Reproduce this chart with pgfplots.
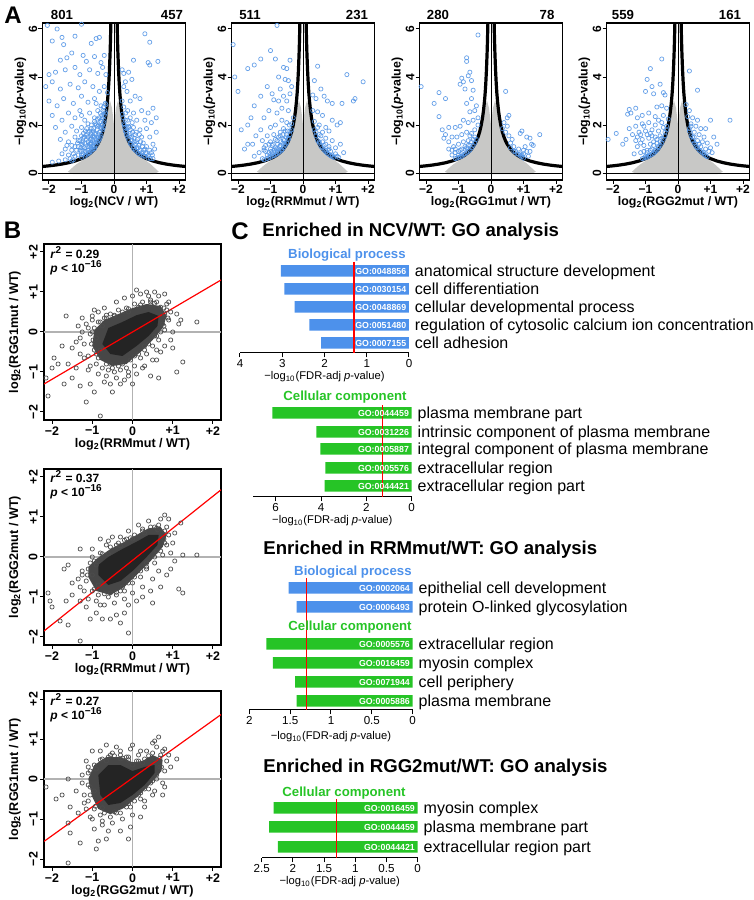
\documentclass[border=0pt]{standalone}
\usepackage{fontspec}
\setmainfont{Liberation Sans}
\usepackage{pgfplots}
\pgfplotsset{compat=1.18}
\definecolor{ptblue}{RGB}{85,150,230}
\definecolor{barblue}{RGB}{77,145,235}
\definecolor{bargreen}{RGB}{38,196,38}
\definecolor{lobegray}{RGB}{200,200,198}
\newcommand\fs[1]{\fontsize{#1}{#1}\selectfont}
\tikzset{
 goid/.style={anchor=east, text=white, font=\bfseries\fs{4.4}, inner sep=0pt, xshift=-1.2pt, text height=3.2pt, text depth=0pt},
 gocat/.style={anchor=west, font=\fs{8}, inner sep=0pt, xshift=2.8pt, text height=5.8pt, text depth=0pt},
}
\pgfplotsset{
 /pgf/number format/assume math mode=true,
 lobe/.style={fill=lobegray, draw=none},
 curve/.style={black, line width=1.6pt},
 thinl/.style={black, line width=0.5pt},
 bluept/.style={only marks, mark=o, mark size=1.05pt, mark options={draw=ptblue, line width=0.35pt, draw opacity=0.9}},
 blkpt/.style={only marks, mark=o, mark size=1.05pt, mark options={draw=black!70, line width=0.35pt}},
 volc/.style={scale only axis, anchor=south west, width=71.5pt, height=78.5pt, xmin=-2.2, xmax=2.2, ymin=-0.29, ymax=6.25,
  xtick={-2,-1,0,1,2}, xticklabels={−2,−1,0,+1,+2}, ytick={0,2,4,6}, yticklabels={0,2,4,6},
  tick pos=left, tick align=outside, major tick length=2pt, axis line style={line width=0.6pt},
  every tick/.style={black, line width=0.5pt}, tick label style={font=\bfseries\fs{6}, inner sep=0.4pt},
  yticklabel style={rotate=90, anchor=south},
  every axis y label/.style={at={(axis description cs:-0.155,0.5)}, rotate=90, anchor=center, font=\bfseries\fs{6.2}},
  every axis x label/.style={at={(axis description cs:0.5,-0.14)}, anchor=center, font=\bfseries\fs{6.2}},
  ylabel={−log\textsubscript{10}(\textit{p}-value)}},
 scat/.style={scale only axis, anchor=south west, width=88.5pt, height=88pt, xmin=-2.2, xmax=2.2, ymin=-2.2, ymax=2.2,
  xtick={-2,-1,0,1,2}, xticklabels={−2,−1,0,+1,+2}, ytick={-2,-1,0,1,2}, yticklabels={−2,−1,0,+1,+2},
  tick pos=left, tick align=outside, major tick length=2pt, axis line style={line width=0.6pt},
  every tick/.style={black, line width=0.5pt}, tick label style={font=\bfseries\fs{6.2}, inner sep=1pt},
  yticklabel style={rotate=90, anchor=south},
  every axis y label/.style={at={(axis description cs:-0.165,0.5)}, rotate=90, anchor=center, font=\bfseries\fs{6.3}},
  every axis x label/.style={at={(axis description cs:0.5,-0.14)}, anchor=center, font=\bfseries\fs{6.3}}},
 goax/.style={scale only axis, anchor=south west, x dir=reverse, axis x line=bottom, axis y line=none,
  x axis line style={-, line width=0.5pt}, tick align=outside, major tick length=2.2pt,
  xtick style={black, line width=0.5pt}, ytick=\empty, clip=false, tick label style={font=\fs{5.8}, inner sep=0.8pt},
  xlabel={−log\textsubscript{10}(FDR-adj \textit{p}-value)},
  every axis x label/.style={at={(axis description cs:0.5,0)}, anchor=center, yshift=-11.8pt, font=\fs{5.6}}},
}
\newcommand\volcbase{%
 \addplot[lobe] coordinates {(0,-0.05) (0,2.0) (0.06,2.7) (0.12,3.0) (0.18,2.8) (0.25,2.3) (0.3,1.95) (0.4,1.45) (0.5,1.15) (0.6,0.95) (0.7,0.8) (0.8,0.7) (0.9,0.6) (1.0,0.5) (1.1,0.4) (1.2,0.28) (1.3,0.15) (1.38,0.05) (1.2,-0.05)};
 \addplot[lobe] coordinates {(0,-0.05) (0,2.0) (-0.06,2.7) (-0.12,3.0) (-0.18,2.8) (-0.25,2.3) (-0.3,1.95) (-0.4,1.45) (-0.5,1.15) (-0.6,0.95) (-0.7,0.8) (-0.8,0.7) (-0.9,0.6) (-1.0,0.5) (-1.1,0.42) (-1.2,0.32) (-1.3,0.2) (-1.42,0.05) (-1.25,-0.05)};
}
\newcommand\volctop{%
 \addplot[curve] coordinates {(0.09,6.67) (0.1,6.0) (0.11,5.45) (0.12,5.0) (0.14,4.29) (0.16,3.75) (0.18,3.33) (0.2,3.0) (0.23,2.61) (0.26,2.31) (0.3,2.0) (0.35,1.71) (0.4,1.5) (0.45,1.33) (0.5,1.2) (0.6,1.0) (0.7,0.857) (0.8,0.75) (0.9,0.667) (1.0,0.6) (1.2,0.5) (1.4,0.429) (1.6,0.375) (1.8,0.333) (2.0,0.3) (2.2,0.273)};
 \addplot[curve] coordinates {(-0.09,6.67) (-0.1,6.0) (-0.11,5.45) (-0.12,5.0) (-0.14,4.29) (-0.16,3.75) (-0.18,3.33) (-0.2,3.0) (-0.23,2.61) (-0.26,2.31) (-0.3,2.0) (-0.35,1.71) (-0.4,1.5) (-0.45,1.33) (-0.5,1.2) (-0.6,1.0) (-0.7,0.857) (-0.8,0.75) (-0.9,0.667) (-1.0,0.6) (-1.2,0.5) (-1.4,0.429) (-1.6,0.375) (-1.8,0.333) (-2.0,0.3) (-2.2,0.273)};
 \addplot[thinl] coordinates {(0,-0.29) (0,6.25)};
 \addplot[thinl] coordinates {(-2.2,0) (2.2,0)};
}
\newcommand\scatbase{%
 \addplot[black!30, line width=0.7pt] coordinates {(0,-2.2) (0,2.2)};
 \addplot[black!30, line width=0.7pt] coordinates {(-2.2,0) (2.2,0)};
}
\begin{document}
\begin{tikzpicture}
\path[use as bounding box] (0,0) rectangle (377pt,450pt);

% ---------------- Panel A ----------------
\begin{axis}[volc, at={(21.25pt,360pt)}, xlabel={log\textsubscript{2}(NCV / WT)}]
\volcbase
\addplot[bluept] coordinates {(-2.05,6.15) (-1.75,6.0) (-1.6,5.65) (-1.2,5.7) (-1.0,6.2) (-0.55,5.6) (-0.45,5.65) (-0.7,5.4) (-1.9,5.5) (-1.55,5.35) (-1.3,5.0) (-1.65,4.7) (-1.45,4.8) (-0.95,4.9) (-0.85,4.65) (-0.6,4.85) (-0.4,4.6) (-0.3,4.9) (-2.0,4.1) (-1.8,4.2) (-1.5,4.3) (-1.2,4.4) (-1.05,4.1) (-0.75,4.3) (-0.5,4.15) (-0.35,4.4) (-0.25,4.1) (-2.1,3.6) (-1.9,3.8) (-1.65,3.5) (-1.35,3.7) (-1.1,3.55) (-0.9,3.8) (-0.65,3.6) (-0.45,3.4) (-0.3,3.6) (-0.2,3.35) (-2.0,3.0) (-1.75,2.8) (-1.55,3.1) (-1.25,2.9) (-1.0,3.2) (-0.8,2.95) (-0.6,3.1) (-0.4,2.8) (-0.25,2.85) (-1.9,2.4) (-1.6,2.2) (-1.4,2.5) (-1.2,2.3) (-1.05,2.6) (-0.9,2.2) (-0.75,2.5) (-0.6,2.3) (-0.5,2.6) (-0.38,2.4) (-0.3,2.2) (-0.28,2.6) (-1.8,1.9) (-1.5,1.7) (-1.3,1.95) (-1.15,1.75) (-1.0,1.9) (-0.85,1.6) (-0.7,1.85) (-0.6,1.65) (-0.5,1.95) (-0.45,1.7) (-0.38,1.85) (-0.33,1.9) (-1.65,1.4) (-1.4,1.3) (-1.2,1.5) (-1.05,1.35) (-0.95,1.45) (-0.8,1.3) (-0.7,1.45) (-0.62,1.25) (-0.55,1.4) (-0.48,1.35) (-0.42,1.5) (-1.5,1.0) (-1.3,0.95) (-1.1,1.1) (-1.0,0.9) (-0.9,1.05) (-0.82,0.95) (-0.75,1.1) (-0.68,1.0) (-0.6,1.1) (-0.55,1.15) (-1.35,0.6) (-1.2,0.7) (-1.1,0.75) (-0.95,0.8) (-0.85,0.75) (-0.78,0.85) (-1.5,0.55) (-1.7,0.5) (-1.9,0.45) (-1.0,0.65) (-1.25,0.55) (-0.72,1.2) (-0.65,1.55) (-0.52,1.8) (-0.44,2.1) (-0.36,2.0) (-0.58,2.05) (-0.88,1.75) (-0.98,1.2) (-1.12,1.25) (-0.9,0.9) (-0.65,0.98) (-0.7,1.65) (-0.8,2.05) (-1.0,2.4) (-0.55,2.9)
(-0.26,2.5) (-0.27,2.9) (-0.31,2.1) (-0.3,2.4) (-0.32,2.75) (-0.35,1.8) (-0.36,2.3) (-0.34,2.6) (-0.4,1.58) (-0.41,1.9) (-0.4,2.15) (-0.42,2.5) (-0.45,1.4) (-0.46,1.6) (-0.45,2.3) (-0.47,2.0) (-0.5,1.28) (-0.5,1.5) (-0.51,2.25) (-0.55,1.3) (-0.56,1.6) (-0.54,2.0) (-0.6,1.02) (-0.61,1.3) (-0.6,1.5) (-0.62,1.85) (-0.6,2.15) (-0.65,1.1) (-0.66,1.35) (-0.64,1.75) (-0.7,0.9) (-0.71,1.05) (-0.7,1.25) (-0.72,1.55) (-0.7,2.0) (-0.75,0.85) (-0.76,1.2) (-0.74,1.4) (-0.75,1.75) (-0.8,0.8) (-0.81,1.1) (-0.8,1.5) (-0.8,1.7) (-0.86,0.9) (-0.85,1.4) (-0.84,1.85) (-0.9,0.7) (-0.9,1.25) (-0.92,1.5) (-0.95,1.1) (-0.96,1.3) (-0.94,1.65) (-1.0,0.75) (-1.02,1.05) (-1.0,1.55) (-1.05,0.95) (-1.1,1.35) (-1.15,0.95) (-1.2,1.1) (-1.25,0.8) (-1.3,1.15) (-1.4,0.75) (-1.45,1.15) (-1.6,0.8) (-1.3,0.5)
(0.95,5.8) (1.1,5.45) (1.35,4.65) (0.6,4.7) (1.05,4.6) (1.1,4.5) (0.25,4.3) (0.3,4.15) (0.45,4.2) (0.35,3.8) (0.55,3.9) (0.3,3.6) (0.4,3.4) (0.65,3.2) (0.25,3.0) (0.5,3.0) (0.8,3.1) (1.2,2.7) (0.3,2.75) (0.42,2.6) (0.6,2.5) (0.85,2.6) (1.05,2.5) (1.3,2.3) (0.28,2.3) (0.35,2.2) (0.5,2.3) (0.7,2.2) (0.95,2.2) (1.15,2.1) (0.32,2.0) (0.45,1.95) (0.6,1.9) (0.8,1.8) (1.0,1.85) (1.3,1.7) (0.38,1.7) (0.5,1.65) (0.65,1.6) (0.85,1.5) (1.1,1.5) (0.42,1.5) (0.55,1.35) (0.7,1.3) (0.9,1.25) (1.2,1.2) (0.5,1.25) (0.6,1.1) (0.75,1.05) (0.95,1.0) (1.25,1.0) (0.7,0.9) (0.85,0.85) (1.0,0.8) (1.15,0.85) (0.8,0.78) (0.95,0.7) (1.05,0.62) (1.2,0.6) (0.62,1.3) (0.78,1.6) (0.46,1.9) (0.56,2.1) (0.36,2.5)
(0.26,2.45) (0.3,2.05) (0.33,1.9) (0.35,1.75) (0.38,1.6) (0.4,1.9) (0.42,2.2) (0.45,1.4) (0.48,1.55) (0.5,1.8) (0.52,1.2) (0.55,1.5) (0.57,1.7) (0.6,1.02) (0.62,1.45) (0.65,0.95) (0.66,1.2) (0.68,1.7) (0.7,1.05) (0.72,1.4) (0.75,0.82) (0.76,1.15) (0.8,0.95) (0.82,1.3) (0.85,0.75) (0.88,1.1) (0.9,0.7) (0.92,0.95) (0.98,0.85) (1.0,1.1) (1.05,0.72) (1.1,0.95) (1.12,0.6) (1.18,0.75)};
\volctop
\end{axis}

\begin{axis}[volc, at={(115.75pt,360pt)}, xlabel={log\textsubscript{2}(RRMmut / WT)}]
\volcbase
\addplot[bluept] coordinates {(-2.15,5.35) (-0.8,6.15) (-1.0,5.1) (-0.85,4.75) (-1.3,4.75) (-1.7,4.35) (-1.5,4.5) (-0.6,4.4) (-0.5,4.35) (-0.4,4.7) (-0.75,4.0) (-0.55,3.9) (-0.45,3.85) (-0.35,3.6) (-2.1,4.0) (-2.0,3.4) (-1.1,3.6) (-0.95,3.3) (-0.7,3.5) (-0.6,3.2) (-0.4,3.3) (-0.9,3.05) (-1.3,3.2) (-1.5,2.8) (-0.75,3.0) (-0.5,3.0) (-0.45,2.6) (-0.65,2.7) (-0.8,2.5) (-1.05,2.6) (-1.2,2.3) (-1.6,2.3) (-1.7,2.0) (-1.9,1.8) (-0.3,2.3) (-0.35,2.05) (-0.5,2.1) (-0.65,2.2) (-0.85,2.0) (-1.0,1.9) (-1.3,1.8) (-1.45,1.55) (-0.4,1.75) (-0.55,1.75) (-0.7,1.7) (-0.9,1.6) (-1.1,1.55) (-1.25,1.35) (-1.55,1.2) (-1.7,1.2) (-0.45,1.45) (-0.6,1.4) (-0.8,1.35) (-1.0,1.3) (-0.55,1.2) (-0.7,1.15) (-0.85,1.05) (-1.0,1.0) (-1.2,0.95) (-1.35,0.85) (-0.65,0.98) (-0.8,0.9) (-0.95,0.8) (-1.1,0.75) (-0.75,1.0) (-0.9,0.85) (-1.05,0.65) (-1.25,0.6) (-1.5,0.7) (-1.8,1.0) (-0.62,1.6) (-0.75,1.5) (-0.95,1.15) (-1.15,1.15) (-0.5,1.6)
(-0.35,1.8) (-0.4,1.6) (-0.42,2.0) (-0.45,1.4) (-0.48,1.75) (-0.5,1.25) (-0.52,1.5) (-0.55,1.15) (-0.58,1.35) (-0.6,1.05) (-0.62,1.25) (-0.65,0.95) (-0.68,1.3) (-0.7,0.9) (-0.72,1.1) (-0.75,0.85) (-0.78,1.2) (-0.8,0.8) (-0.82,1.0) (-0.85,0.75) (-0.88,0.95) (-0.9,0.72) (-0.92,1.2) (-0.95,0.7) (-0.98,0.9) (-1.0,0.65) (-1.05,0.85) (-1.1,0.6) (-1.15,0.9) (-1.2,0.55) (-0.7,1.55) (-0.6,1.85) (-0.85,1.4) (-1.05,1.2) (-1.2,1.05)
(1.35,4.1) (0.45,4.45) (1.85,3.8) (0.35,3.85) (0.55,3.5) (1.6,3.1) (1.55,3.0) (0.3,3.25) (0.4,3.1) (0.65,3.2) (0.75,3.0) (0.9,2.9) (1.2,2.9) (0.3,2.6) (0.45,2.55) (0.6,2.4) (0.9,2.2) (1.15,2.1) (1.05,2.0) (0.35,2.15) (0.5,2.0) (0.7,1.9) (0.8,1.75) (0.4,1.7) (0.55,1.55) (0.7,1.45) (0.9,1.35) (1.15,1.2) (0.5,1.3) (0.65,1.15) (0.8,1.1) (1.0,1.05) (0.7,0.95) (0.85,0.9) (1.0,0.8) (1.25,0.85) (0.9,0.75) (1.1,0.65) (0.45,1.9) (0.6,1.7)
(0.35,1.8) (0.4,1.55) (0.45,1.35) (0.5,1.25) (0.55,1.1) (0.6,1.05) (0.65,0.95) (0.7,0.88) (0.75,0.82) (0.8,0.78) (0.85,0.72) (0.9,0.68) (0.95,0.65) (0.5,1.6) (0.6,1.3) (0.7,1.2) (0.8,1.0) (1.05,0.7)};
\volctop
\end{axis}

\begin{axis}[volc, at={(209.75pt,360pt)}, xlabel={log\textsubscript{2}(RGG1mut / WT)}]
\volcbase
\addplot[bluept] coordinates {(-0.4,5.75) (-0.75,4.8) (-0.75,4.65) (-2.15,3.6) (-0.65,4.2) (-0.7,4.05) (-0.9,3.95) (-0.85,3.8) (-0.6,3.85) (-0.95,3.7) (-0.8,3.5) (-0.55,3.45) (-1.6,3.35) (-1.4,3.1) (-1.75,2.9) (-0.6,3.1) (-0.75,2.9) (-0.45,2.8) (-0.5,2.6) (-0.65,2.55) (-1.6,2.35) (-0.4,2.3) (-0.55,2.2) (-0.7,2.1) (-0.85,2.2) (-0.95,1.95) (-1.1,1.9) (-1.3,1.9) (-1.5,1.8) (-1.4,1.6) (-0.4,2.0) (-0.5,1.8) (-0.6,1.65) (-0.75,1.7) (-0.9,1.6) (-1.05,1.5) (-1.2,1.5) (-1.3,1.3) (-1.45,1.45) (-0.55,1.4) (-0.7,1.35) (-0.85,1.3) (-1.0,1.2) (-1.15,1.1) (-0.65,1.15) (-0.8,1.0) (-0.95,0.95) (-1.1,0.85) (-1.0,0.75) (-0.9,0.8) (-0.75,1.05) (-1.2,0.95)
(-0.45,1.4) (-0.5,1.25) (-0.55,1.15) (-0.6,1.05) (-0.65,0.95) (-0.7,0.9) (-0.75,0.85) (-0.8,0.8) (-0.85,0.75) (-0.9,0.7) (-0.95,0.68) (-1.0,0.65) (-1.05,0.62) (-1.1,0.6) (-0.6,1.3) (-0.7,1.15) (-0.8,1.1) (-0.9,1.0) (-1.0,0.9) (-1.1,1.0) (-0.5,1.5) (-0.65,1.55) (-1.2,0.75) (-1.3,1.0)
(0.45,3.4) (0.55,2.4) (0.5,2.3) (1.5,1.6) (0.4,2.1) (0.5,1.95) (1.2,1.45) (1.1,1.5) (0.35,1.85) (0.45,1.7) (0.55,1.55) (0.95,1.75) (0.9,1.65) (1.25,1.2) (1.3,1.15) (0.6,1.25) (0.7,1.1) (0.85,1.0) (1.0,0.95) (1.1,0.9) (0.75,0.9) (0.9,0.8) (0.95,0.75) (1.05,1.1) (0.65,1.4)
(0.6,1.05) (0.7,0.9) (0.8,0.8) (0.85,0.78) (0.9,0.72) (0.95,0.68) (1.0,0.62) (1.0,0.8) (1.15,0.7) (1.2,0.9)};
\volctop
\end{axis}

\begin{axis}[volc, at={(303.25pt,360pt)}, xlabel={log\textsubscript{2}(RGG2mut / WT)}]
\volcbase
\addplot[bluept] coordinates {(-0.5,4.75) (-0.85,4.35) (-0.95,3.9) (-0.8,3.6) (-0.55,3.7) (-0.45,3.35) (-0.4,3.25) (-1.0,3.4) (-0.75,3.3) (-1.5,2.65) (-1.45,2.5) (-1.3,2.7) (-1.55,2.45) (-0.65,2.75) (-0.5,2.8) (-0.35,2.7) (-1.25,2.3) (-1.1,2.4) (-0.9,2.5) (-0.7,2.35) (-0.45,2.4) (-0.3,2.25) (-2.15,1.4) (-1.9,1.65) (-1.7,1.2) (-1.6,1.4) (-1.5,1.85) (-1.3,1.95) (-1.1,2.05) (-0.9,2.1) (-0.7,2.0) (-0.5,2.1) (-0.35,1.95) (-1.4,1.6) (-1.2,1.7) (-1.0,1.75) (-0.8,1.8) (-0.6,1.75) (-0.4,1.7) (-1.3,1.35) (-1.1,1.4) (-0.9,1.45) (-0.7,1.5) (-0.5,1.45) (-1.25,1.1) (-1.05,1.15) (-0.85,1.2) (-0.65,1.25) (-0.55,1.3) (-1.15,0.85) (-0.95,0.95) (-0.8,1.0) (-0.7,0.95) (-1.0,0.7) (-0.9,0.75) (-1.35,0.8) (-0.6,1.1) (-0.75,1.3) (-0.95,1.6) (-1.15,1.6) (-0.8,1.55)
(-0.35,1.8) (-0.4,1.55) (-0.45,1.4) (-0.5,1.25) (-0.55,1.15) (-0.6,1.05) (-0.65,0.95) (-0.7,0.88) (-0.75,0.82) (-0.8,0.78) (-0.85,0.74) (-0.9,0.7) (-0.95,0.66) (-1.0,0.64) (-1.05,0.62) (-1.1,0.6) (-0.55,1.55) (-0.65,1.4) (-0.75,1.15) (-0.85,0.95) (-0.95,0.85) (-1.05,0.9) (-1.15,1.25) (-0.45,1.9) (-0.6,2.2) (-0.85,1.65) (-1.25,1.5) (-1.05,1.95)
(0.35,4.25) (0.6,3.45) (0.25,2.85) (0.35,2.6) (0.3,2.35) (0.45,2.3) (0.6,2.2) (1.0,2.2) (1.6,2.2) (0.4,2.05) (0.55,1.95) (0.7,1.85) (0.85,1.85) (0.35,1.85) (0.5,1.7) (0.65,1.6) (0.8,1.5) (1.1,1.5) (0.45,1.5) (0.6,1.35) (0.75,1.3) (0.9,1.25) (1.0,1.05) (1.2,1.2) (0.55,1.2) (0.7,1.1) (0.85,1.0) (0.95,0.9) (0.8,0.85) (1.05,0.85)
(0.35,1.75) (0.4,1.55) (0.45,1.35) (0.5,1.25) (0.55,1.1) (0.6,1.05) (0.65,0.95) (0.7,0.9) (0.75,0.85) (0.8,0.78) (0.85,0.72) (0.9,0.68) (0.5,1.5) (0.65,1.2) (0.4,1.95)};
\volctop
\end{axis}

% ---------------- Panel B ----------------
\begin{axis}[scat, at={(22pt,240pt)}, xlabel={log\textsubscript{2}(RRMmut / WT)}, ylabel={log\textsubscript{2}(RGG1mut / WT)}]
\scatbase
\addplot[fill=black!72, draw=none] coordinates {(-1.0,-0.35) (-0.8,-0.7) (-0.5,-0.85) (-0.15,-0.8) (0.2,-0.5) (0.5,-0.2) (0.75,0.1) (0.85,0.4) (0.7,0.65) (0.35,0.7) (0.0,0.6) (-0.35,0.45) (-0.7,0.3) (-0.95,0.05)};
\addplot[fill=black!86, draw=none] coordinates {(-0.75,-0.3) (-0.55,-0.55) (-0.25,-0.6) (0.1,-0.35) (0.4,-0.1) (0.62,0.15) (0.65,0.4) (0.4,0.5) (0.1,0.42) (-0.25,0.25) (-0.6,0.1)};
\addplot[blkpt] coordinates {(-1.0,0.3) (-1.05,-0.05) (-0.95,-0.45) (-1.1,-0.6) (-0.9,-0.8) (-0.75,-0.9) (-0.6,-0.95) (-0.45,-1.0) (-0.3,-0.95) (-0.15,-0.9) (0.05,-0.85) (0.2,-0.65) (0.35,-0.55) (0.5,-0.35) (0.65,-0.2) (0.8,0.05) (0.9,0.3) (0.95,0.5) (0.85,0.7) (0.6,0.75) (0.45,0.8) (0.25,0.75) (0.05,0.7) (-0.15,0.6) (-0.35,0.55) (-0.55,0.45) (-0.7,0.35) (-0.85,0.25) (-1.2,-0.3) (-1.25,0.0) (-1.15,0.2) (-0.7,0.6) (-0.4,0.75) (-0.2,0.85) (0.0,0.9) (0.2,0.95) (0.4,0.9) (0.65,0.9) (0.7,-0.5) (0.5,-0.7) (0.3,-0.85) (0.1,-1.05) (-0.1,-1.1) (-0.4,-1.15) (-0.65,-1.1) (-0.85,-1.05) (-1.05,-0.85) (-1.3,-0.55) (-1.4,-0.25) (-1.35,0.15) (-0.95,0.55) (1.0,0.0) (1.1,0.45) (0.95,-0.2) (0.8,-0.35) (1.15,0.2)
(-0.9,-0.15) (-0.8,-0.45) (-0.55,-0.8) (-0.25,-0.8) (0.05,-0.6) (0.3,-0.35) (0.55,-0.1) (0.75,0.2) (0.8,0.45) (0.7,0.62) (0.45,0.68) (0.15,0.62) (-0.1,0.5) (-0.45,0.4) (-0.75,0.15) (-0.95,0.1)
(-1.02,-0.3) (-0.85,-0.65) (-0.65,-0.8) (-0.35,-0.85) (-0.05,-0.7) (0.15,-0.55) (0.4,-0.3) (0.6,-0.1) (0.78,0.15) (0.88,0.35) (0.78,0.6) (0.55,0.72) (0.2,0.68) (-0.1,0.58) (-0.45,0.42) (-0.8,0.25) (-1.0,0.0) (-0.9,-0.55) (-0.5,-0.9) (0.3,-0.45) (0.7,0.0) (0.85,0.55) (0.45,0.75) (-0.25,0.5) (-0.65,0.35) (-0.98,-0.2)
(-2.15,-1.15) (-2.1,-1.6) (-1.95,-0.65) (-1.75,-0.35) (-1.65,0.4) (-1.7,-1.3) (-1.6,-0.8) (-1.5,-1.15) (-1.4,-0.9) (-1.3,-1.35) (-1.15,-1.75) (-1.2,-0.65) (-1.1,-0.95) (-1.05,-1.3) (-0.95,-1.5) (-0.8,-2.1) (-0.85,0.5) (-0.7,-1.25) (-0.5,-1.5) (-0.65,0.42) (-0.3,-1.3) (-0.2,-1.2) (0.0,-1.3) (0.1,1.05) (0.25,-0.9) (0.45,-1.1) (0.6,-0.7) (0.65,-1.15) (0.9,0.75) (1.1,-1.0) (1.25,-0.75) (1.2,0.3) (1.6,0.25) (1.0,-0.4) (0.8,0.95) (0.6,-0.45) (-1.0,0.4) (-1.1,0.1) (-1.3,-0.15) (-1.5,-0.4) (-1.85,-0.8) (-2.0,-0.9) (-1.25,0.35) (0.35,1.0) (0.55,1.0) (-0.55,-1.3) (-0.1,-1.0)};
\addplot[red, line width=0.6pt] coordinates {(-2.2,-1.3) (2.2,1.3)};
\end{axis}

\begin{axis}[scat, at={(22pt,127.5pt)}, xlabel={log\textsubscript{2}(RRMmut / WT)}, ylabel={log\textsubscript{2}(RGG2mut / WT)}]
\scatbase
\addplot[fill=black!72, draw=none] coordinates {(-1.1,-0.5) (-0.9,-0.85) (-0.55,-0.95) (-0.2,-0.75) (0.1,-0.45) (0.45,-0.1) (0.75,0.25) (0.85,0.55) (0.7,0.75) (0.4,0.72) (0.1,0.55) (-0.2,0.38) (-0.55,0.2) (-0.9,-0.05) (-1.1,-0.25)};
\addplot[fill=black!86, draw=none] coordinates {(-0.85,-0.45) (-0.6,-0.7) (-0.3,-0.6) (0.0,-0.35) (0.35,0.0) (0.62,0.3) (0.65,0.55) (0.4,0.55) (0.1,0.38) (-0.25,0.2) (-0.6,0.0) (-0.85,-0.2)};
\addplot[blkpt] coordinates {(-1.1,-0.3) (-1.15,-0.6) (-1.0,-0.85) (-0.85,-0.95) (-0.6,-1.0) (-0.4,-0.95) (-0.2,-0.85) (0.0,-0.65) (0.2,-0.5) (0.35,-0.3) (0.55,-0.15) (0.75,0.05) (0.85,0.3) (0.9,0.55) (0.85,0.75) (0.65,0.8) (0.45,0.75) (0.25,0.7) (0.05,0.55) (-0.15,0.45) (-0.35,0.35) (-0.55,0.25) (-0.8,0.1) (-1.0,0.0) (-0.65,0.3) (-0.3,0.5) (-0.1,0.65) (0.15,0.8) (0.4,0.9) (0.7,0.95) (-1.25,-0.45) (-1.3,-0.75) (-1.1,-1.05) (-0.9,-1.1) (-0.7,-1.2) (-0.45,-1.15) (-0.2,-1.05) (0.0,-0.9) (0.25,-0.75) (0.5,-0.55) (0.65,-0.35) (0.95,0.1) (1.0,0.35) (1.05,0.6)
(-1.0,-0.45) (-0.85,-0.7) (-0.55,-0.9) (-0.25,-0.75) (0.05,-0.5) (0.35,-0.15) (0.6,0.15) (0.78,0.45) (0.62,0.68) (0.3,0.6) (0.0,0.45) (-0.3,0.28) (-0.6,0.08) (-0.9,-0.2)
(-1.12,-0.45) (-0.95,-0.8) (-0.7,-0.92) (-0.4,-0.88) (-0.1,-0.65) (0.2,-0.35) (0.55,0.0) (0.8,0.35) (0.8,0.65) (0.55,0.75) (0.25,0.65) (-0.05,0.48) (-0.4,0.3) (-0.75,0.08) (-1.05,-0.15) (-0.3,-0.85) (0.35,-0.25) (0.7,0.15) (0.6,0.72) (-0.2,0.42) (-0.95,-0.1)
(-2.1,-0.9) (-2.05,-1.1) (-2.0,-1.25) (-1.8,-1.6) (-1.6,-1.7) (-1.65,-1.1) (-1.5,-0.95) (-1.5,-0.65) (-1.7,-0.3) (-1.6,-0.2) (-1.3,0.2) (-1.25,-0.35) (-1.35,-0.55) (-1.2,-0.85) (-1.3,-1.1) (-1.15,-1.25) (-1.05,-1.55) (-0.9,-1.4) (-0.75,-1.55) (-0.8,-1.2) (-0.55,-1.55) (-0.4,-1.45) (-0.3,-1.65) (-0.2,-1.4) (-0.1,-1.2) (-0.1,-1.9) (-1.3,-2.1) (0.1,-1.1) (0.25,-1.0) (0.45,-0.85) (0.5,-1.15) (0.7,-0.75) (0.85,-0.45) (0.95,-0.3) (1.15,-0.8) (1.25,-0.9) (1.05,-0.1) (1.25,0.05) (1.6,0.05) (1.2,0.85) (0.9,0.95) (0.8,1.05) (-0.8,0.45) (-0.6,0.4) (-0.5,0.5) (-1.0,0.2)};
\addplot[red, line width=0.6pt] coordinates {(-2.2,-1.85) (2.2,1.68)};
\end{axis}

\begin{axis}[scat, at={(22pt,16.5pt)}, xlabel={log\textsubscript{2}(RGG2mut / WT)}, ylabel={log\textsubscript{2}(RGG1mut / WT)}]
\scatbase
\addplot[fill=black!72, draw=none] coordinates {(-1.0,-0.45) (-0.85,-0.75) (-0.55,-0.88) (-0.2,-0.72) (0.15,-0.42) (0.45,-0.12) (0.72,0.2) (0.75,0.48) (0.5,0.6) (0.25,0.45) (0.0,0.42) (-0.3,0.55) (-0.65,0.55) (-0.95,0.35) (-1.1,0.0)};
\addplot[fill=black!86, draw=none] coordinates {(-0.8,-0.4) (-0.6,-0.65) (-0.3,-0.6) (0.0,-0.4) (0.3,-0.15) (0.55,0.15) (0.55,0.35) (0.3,0.3) (0.0,0.2) (-0.3,0.35) (-0.6,0.35) (-0.85,0.1)};
\addplot[blkpt] coordinates {(-1.05,-0.2) (-1.1,-0.55) (-0.95,-0.75) (-0.8,-0.9) (-0.55,-0.95) (-0.3,-0.85) (-0.05,-0.7) (0.2,-0.5) (0.4,-0.25) (0.6,0.0) (0.8,0.2) (0.85,0.45) (0.7,0.6) (0.5,0.65) (0.3,0.5) (0.1,0.45) (-0.1,0.55) (-0.3,0.6) (-0.55,0.6) (-0.75,0.5) (-0.95,0.35) (-1.1,0.15) (-1.25,-0.1) (-1.2,-0.4) (-1.15,-0.75) (-1.0,-1.0) (-0.75,-1.05) (-0.5,-1.1) (-0.25,-1.0) (0.0,-0.9) (0.3,-0.55) (0.55,-0.3) (0.75,-0.1) (0.95,0.3) (0.8,0.75) (0.6,0.8) (0.35,0.7) (0.15,0.6) (-0.05,0.75) (-0.4,0.8) (-0.8,0.7) (-1.15,0.45)
(-0.95,-0.3) (-0.75,-0.72) (-0.45,-0.82) (-0.15,-0.7) (0.15,-0.4) (0.45,-0.1) (0.68,0.3) (0.55,0.5) (0.25,0.4) (0.0,0.35) (-0.3,0.5) (-0.65,0.45) (-0.9,0.25)
(-1.05,-0.4) (-0.92,-0.68) (-0.7,-0.85) (-0.4,-0.85) (-0.1,-0.62) (0.2,-0.35) (0.5,-0.05) (0.72,0.3) (0.68,0.52) (0.4,0.58) (0.15,0.45) (-0.1,0.48) (-0.45,0.58) (-0.8,0.48) (-1.05,0.2) (-1.1,-0.15) (0.3,-0.25) (0.6,0.1) (-0.25,0.52) (-0.6,0.55) (0.05,-0.55)
(-2.15,-0.2) (-1.9,-0.5) (-1.75,-0.4) (-1.6,0.0) (-1.55,-0.7) (-1.6,-1.1) (-1.55,-1.35) (-1.6,-2.1) (-1.3,-1.6) (-1.25,0.1) (-1.4,-0.3) (-1.2,-0.6) (-1.35,-0.85) (-1.1,0.3) (-1.05,-0.95) (-0.95,-1.25) (-0.9,-1.75) (-0.85,-1.55) (-0.65,-1.5) (-0.75,-1.15) (-0.6,-1.3) (-0.3,-1.3) (-0.1,-1.5) (-0.05,-1.2) (-1.0,0.7) (-0.65,0.85) (-0.5,0.65) (-0.3,0.7) (-0.15,0.55) (0.0,0.85) (0.2,0.7) (0.5,0.9) (0.65,1.05) (0.75,0.7) (0.9,0.6) (1.1,0.5) (0.3,-0.7) (0.5,-0.4) (0.8,-0.2) (0.75,-0.4) (0.2,-0.95) (0.55,0.95)};
\addplot[red, line width=0.6pt] coordinates {(-2.2,-1.56) (2.2,1.61)};
\end{axis}

% ---------------- Panel C ----------------
\begin{axis}[goax, at={(120pt,273.5pt)}, width=84.5pt, height=47.5pt, xmin=0, xmax=4, ymin=-353, ymax=-258, xtick={0,1,2,3,4}]
\addplot[xbar, bar width=11.5, fill=barblue, draw=none] coordinates {(3.03,-271) (2.95,-289) (2.71,-307) (2.36,-325) (2.08,-343)};
\addplot[red, line width=0.6pt] coordinates {(1.301,-353) (1.301,-262)};
\node[goid] at (axis cs:0,-271) {GO:0048856};
\node[goid] at (axis cs:0,-289) {GO:0030154};
\node[goid] at (axis cs:0,-307) {GO:0048869};
\node[goid] at (axis cs:0,-325) {GO:0051480};
\node[goid] at (axis cs:0,-343) {GO:0007155};
\node[gocat] at (axis cs:0,-271) {anatomical structure development};
\node[gocat] at (axis cs:0,-289) {cell differentiation};
\node[gocat] at (axis cs:0,-307) {cellular developmental process};
\node[gocat] at (axis cs:0,-325) {regulation of cytosolic calcium ion concentration};
\node[gocat] at (axis cs:0,-343) {cell adhesion};
\end{axis}

\begin{axis}[goax, at={(126.5pt,201.5pt)}, width=79.35pt, height=46.5pt, xmin=0, xmax=7, ymin=-497, ymax=-404, xtick={0,2,4,6}]
\addplot[xbar, bar width=11.5, fill=bargreen, draw=none] coordinates {(6.15,-413) (4.2,-432) (4.03,-449) (3.81,-468) (3.84,-486)};
\addplot[red, line width=0.6pt] coordinates {(1.301,-497) (1.301,-405)};
\node[goid] at (axis cs:0,-413) {GO:0044459};
\node[goid] at (axis cs:0,-432) {GO:0031226};
\node[goid] at (axis cs:0,-449) {GO:0005887};
\node[goid] at (axis cs:0,-468) {GO:0005576};
\node[goid] at (axis cs:0,-486) {GO:0044421};
\node[gocat] at (axis cs:0,-413) {plasma membrane part};
\node[gocat] at (axis cs:0,-432) {intrinsic component of plasma membrane};
\node[gocat] at (axis cs:0,-449) {integral component of plasma membrane};
\node[gocat] at (axis cs:0,-468) {extracellular region};
\node[gocat] at (axis cs:0,-486) {extracellular region part};
\end{axis}

\begin{axis}[goax, at={(124.65pt,95pt)}, width=81.7pt, height=66pt, xmin=0, xmax=2, ymin=-710, ymax=-578, xtick={0,0.5,1,1.5,2}, every axis x label/.append style={yshift=-1.5pt}]
\addplot[xbar, bar width=11.5, fill=barblue, draw=none] coordinates {(1.52,-588) (1.42,-607)};
\addplot[xbar, bar width=11.5, fill=bargreen, draw=none] coordinates {(1.79,-644) (1.71,-663) (1.44,-682) (1.42,-701)};
\addplot[red, line width=0.6pt] coordinates {(1.301,-710) (1.301,-578)};
\node[goid] at (axis cs:0,-588) {GO:0002064};
\node[goid] at (axis cs:0,-607) {GO:0006493};
\node[goid] at (axis cs:0,-644) {GO:0005576};
\node[goid] at (axis cs:0,-663) {GO:0016459};
\node[goid] at (axis cs:0,-682) {GO:0071944};
\node[goid] at (axis cs:0,-701) {GO:0005886};
\node[gocat] at (axis cs:0,-588) {epithelial cell development};
\node[gocat] at (axis cs:0,-607) {protein O-linked glycosylation};
\node[gocat] at (axis cs:0,-644) {extracellular region};
\node[gocat] at (axis cs:0,-663) {myosin complex};
\node[gocat] at (axis cs:0,-682) {cell periphery};
\node[gocat] at (axis cs:0,-701) {plasma membrane};
\end{axis}

\begin{axis}[goax, at={(130.85pt,21pt)}, width=78pt, height=29.5pt, xmin=0, xmax=2.5, ymin=-858, ymax=-799, xtick={0,0.5,1,1.5,2,2.5}]
\addplot[xbar, bar width=11.5, fill=bargreen, draw=none] coordinates {(2.31,-808) (2.38,-827) (2.24,-847)};
\addplot[red, line width=0.6pt] coordinates {(1.301,-858) (1.301,-799)};
\node[goid] at (axis cs:0,-808) {GO:0016459};
\node[goid] at (axis cs:0,-827) {GO:0044459};
\node[goid] at (axis cs:0,-847) {GO:0044421};
\node[gocat] at (axis cs:0,-808) {myosin complex};
\node[gocat] at (axis cs:0,-827) {plasma membrane part};
\node[gocat] at (axis cs:0,-847) {extracellular region part};
\end{axis}

% ---------------- Text in pixel coordinates ----------------
\begin{scope}[shift={(0pt,450pt)}, x=0.5pt, y=-0.5pt]
\tikzset{lab/.style={font=\bfseries\fs{12}, inner sep=0pt}, cnt/.style={font=\bfseries\fs{6.6}, inner sep=0pt},
 ttl/.style={anchor=west, font=\bfseries\fs{9.3}, inner sep=0pt}, sub/.style={anchor=east, font=\bfseries\fs{6.6}, inner sep=0pt},
 rr/.style={anchor=west, font=\bfseries\fs{6}, inner sep=0pt}}
\node[lab] at (13,15) {A};
\node[lab] at (12.5,230) {B};
\node[lab] at (240,231) {C};
\node[cnt] at (62,15) {801};   \node[cnt] at (172,15) {457};
\node[cnt] at (250,15) {511};  \node[cnt] at (357,15) {231};
\node[cnt] at (438,15) {280};  \node[cnt] at (547,15) {78};
\node[cnt] at (623,15) {559};  \node[cnt] at (730,15) {161};
\node[rr] at (50,253) {\textit{r}\textsuperscript{2} = 0.29};
\node[rr] at (50,268) {\textit{p} < 10\textsuperscript{−16}};
\node[rr] at (50,477) {\textit{r}\textsuperscript{2} = 0.37};
\node[rr] at (50,492) {\textit{p} < 10\textsuperscript{−16}};
\node[rr] at (50,700) {\textit{r}\textsuperscript{2} = 0.27};
\node[rr] at (50,715) {\textit{p} < 10\textsuperscript{−16}};
\node[ttl] at (262,232) {Enriched in NCV/WT: GO analysis};
\node[sub, text=barblue] at (406,255) {Biological process};
\node[sub, text=bargreen] at (407,397) {Cellular component};
\node[ttl] at (263,550) {Enriched in RRMmut/WT: GO analysis};
\node[sub, text=barblue] at (412,572) {Biological process};
\node[sub, text=bargreen] at (412,627) {Cellular component};
\node[ttl] at (263,768) {Enriched in RGG2mut/WT: GO analysis};
\node[sub, text=bargreen] at (406,793) {Cellular component};
\end{scope}
\end{tikzpicture}
\end{document}
